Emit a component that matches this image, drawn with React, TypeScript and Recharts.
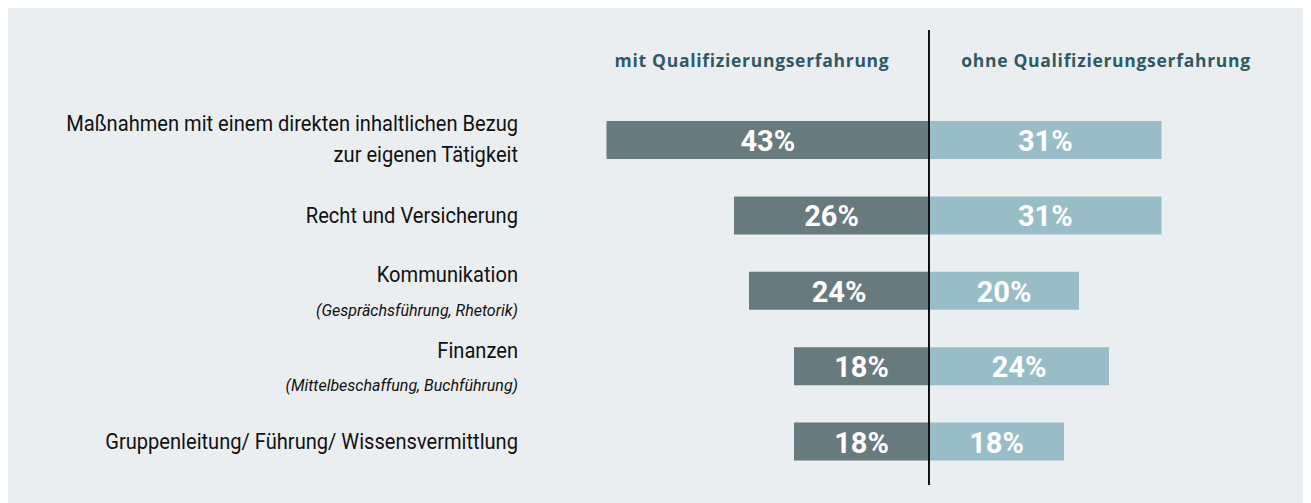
import React from "react";
import { BarChart, Bar, XAxis, YAxis, ReferenceLine, LabelList } from "recharts";

const categories = [
  "Maßnahmen mit einem direkten inhaltlichen Bezug zur eigenen Tätigkeit",
  "Recht und Versicherung",
  "Kommunikation",
  "Finanzen",
  "Gruppenleitung/ Führung/ Wissensvermittlung",
];
const categoryLines = [
  ["Maßnahmen mit einem direkten inhaltlichen Bezug", "zur eigenen Tätigkeit"],
  ["Recht und Versicherung"],
  ["Kommunikation"],
  ["Finanzen"],
  ["Gruppenleitung/ Führung/ Wissensvermittlung"],
];
const categoryNotes = ["", "", "(Gesprächsführung, Rhetorik)", "(Mittelbeschaffung, Buchführung)", ""];
const mitValues = [43, 26, 24, 18, 18];
const ohneValues = [31, 31, 20, 24, 18];
const seriesNames = ["mit Qualifizierungserfahrung", "ohne Qualifizierungserfahrung"];

const data = categories.map((c, i) => ({ name: c, mit: -mitValues[i], ohne: ohneValues[i] }));

const LABEL_FONT = "Roboto, 'Liberation Sans', sans-serif";

const MainLine = ({ x, y, text }: { x: number; y: number; text: string }) => (
  <g transform={`translate(${x},${y}) scale(0.893,1)`}>
    <text x={0} y={0} textAnchor="end" dominantBaseline="central" fontSize={22.5} fill="#111" fontFamily={LABEL_FONT}>
      {text}
    </text>
  </g>
);

const CategoryTick = (props: any) => {
  const { x, y, payload } = props;
  const idx = categories.indexOf(payload.value);
  const lines = categoryLines[idx] || [payload.value];
  const note = categoryNotes[idx];
  if (lines.length === 2) {
    return (
      <g>
        <MainLine x={x} y={y - 17} text={lines[0]} />
        <MainLine x={x} y={y + 14} text={lines[1]} />
      </g>
    );
  }
  if (note) {
    return (
      <g>
        <MainLine x={x} y={y - 16} text={lines[0]} />
        <text x={x} y={y + 20} textAnchor="end" dominantBaseline="central" fontSize={16} fontStyle="italic" fill="#111" fontFamily={LABEL_FONT}>
          {note}
        </text>
      </g>
    );
  }
  return (
    <g>
      <MainLine x={x} y={y} text={lines[0]} />
    </g>
  );
};

const ValueLabel = (props: any) => {
  const { x, y, width, height, value } = props;
  return (
    <text
      x={x + width / 2}
      y={y + height / 2 + 1}
      textAnchor="middle"
      dominantBaseline="central"
      fill="#ffffff"
      fontSize={29}
      fontWeight="bold"
      fontFamily={LABEL_FONT}
    >
      {Math.abs(value)}%
    </text>
  );
};

const headerStyle: React.CSSProperties = {
  position: "absolute",
  top: 54,
  transform: "translate(-50%, -50%)",
  fontFamily: "'Open Sans', sans-serif",
  fontWeight: 700,
  fontSize: 17.5,
  letterSpacing: 0.7,
  color: "#2e5a66",
  whiteSpace: "nowrap",
};

export default function App() {
  return (
    <div style={{ position: "relative", width: 1304, height: 497, marginLeft: -1, marginTop: -2, background: "#ebeef1" }}>
      <div style={{ ...headerStyle, left: 745 }}>{seriesNames[0]}</div>
      <div style={{ ...headerStyle, left: 1099 }}>{seriesNames[1]}</div>
      <BarChart
        width={1304}
        height={497}
        data={data}
        layout="vertical"
        stackOffset="sign"
        margin={{ top: 24, right: 7, bottom: 18, left: 0 }}
      >
        <XAxis type="number" domain={[-50, 50]} hide />
        <YAxis
          type="category"
          dataKey="name"
          width={547}
          axisLine={false}
          tickLine={false}
          tickSize={0}
          tickMargin={36}
          padding={{ top: 72, bottom: 6 }}
          tick={<CategoryTick />}
          interval={0}
        />
        <Bar dataKey="mit" stackId="a" fill="#677a7d" barSize={38} isAnimationActive={false}>
          <LabelList dataKey="mit" content={<ValueLabel />} />
        </Bar>
        <Bar dataKey="ohne" stackId="a" fill="#99bdc7" barSize={38} isAnimationActive={false}>
          <LabelList dataKey="ohne" content={<ValueLabel />} />
        </Bar>
        <ReferenceLine x={0} stroke="#111" strokeWidth={2} />
      </BarChart>
    </div>
  );
}
